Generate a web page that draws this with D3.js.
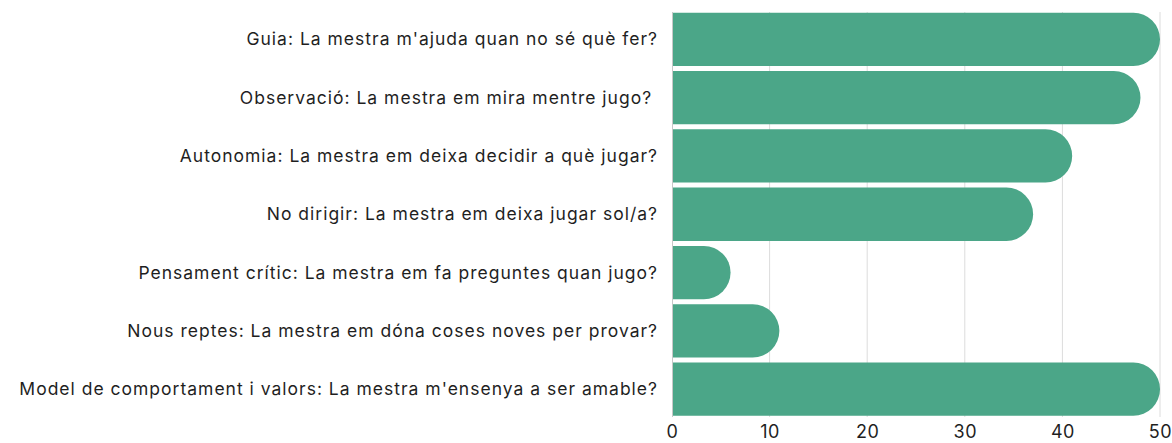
<!DOCTYPE html>
<html>
<head>
<meta charset="utf-8">
<script src="https://cdn.jsdelivr.net/npm/d3@7"></script>
<style>
  html, body { margin: 0; padding: 0; background: #ffffff; }
  svg { display: block; font-family: Inter, "Noto Sans", sans-serif; }
  text { white-space: pre; }
</style>
</head>
<body>
<svg id="chart" width="1172" height="443"></svg>
<script>
const categories = [
  "Guia: La mestra m'ajuda quan no sé què fer?",
  "Observació: La mestra em mira mentre jugo? ",
  "Autonomia: La mestra em deixa decidir a què jugar?",
  "No dirigir: La mestra em deixa jugar sol/a?",
  "Pensament crític: La mestra em fa preguntes quan jugo?",
  "Nous reptes: La mestra em dóna coses noves per provar?",
  "Model de comportament i valors: La mestra m'ensenya a ser amable?"
];
const values = [50, 48, 41, 37, 6, 11, 50];
const xTicks = [0, 10, 20, 30, 40, 50];

const svg = d3.select("#chart");
const x = d3.scaleLinear().domain([0, 50]).range([672, 1160]);
const y = d3.scaleBand().domain(categories).range([10.2, 418.3]).paddingInner(0.085).paddingOuter(0.0425);

// grid lines
svg.append("g").selectAll("line").data(xTicks.filter(d => d > 0)).join("line")
  .attr("x1", d => x(d)).attr("x2", d => x(d))
  .attr("y1", 12).attr("y2", 417)
  .attr("stroke", "#dcdcdc").attr("stroke-width", 1);

// bars with rounded right end
const bh = y.bandwidth();
svg.append("g").selectAll("path").data(categories).join("path")
  .attr("fill", "#4ba688")
  .attr("d", (c, i) => {
    const x0 = x(0), x1 = x(values[i]), y0 = y(c), r = bh / 2;
    const p = d3.path();
    p.moveTo(x0, y0);
    p.lineTo(x1 - r, y0);
    p.arc(x1 - r, y0 + r, r, -Math.PI / 2, Math.PI / 2);
    p.lineTo(x0, y0 + bh);
    p.closePath();
    return p.toString();
  });

// left axis line
svg.append("line").attr("x1", 672.5).attr("x2", 672.5).attr("y1", 12).attr("y2", 417)
  .attr("stroke", "#c8c8c8").attr("stroke-width", 1);

// category labels
svg.append("g").selectAll("text").data(categories).join("text")
  .attr("x", 658).attr("y", c => y(c) + bh / 2)
  .attr("dy", "0.35em").attr("text-anchor", "end")
  .attr("font-size", 17.5).attr("letter-spacing", "1px").attr("fill", "#1f1f1f")
  .text(c => c);

// x axis tick labels
const xAxis = d3.axisBottom(x).tickValues(xTicks).tickSize(0).tickPadding(0);
const gx = svg.append("g").attr("transform", "translate(0,425)").call(xAxis);
gx.select(".domain").remove();
gx.selectAll("text").attr("font-size", 18).attr("letter-spacing", "0.5px").attr("fill", "#1f1f1f")
  .attr("font-family", "Inter, 'Noto Sans', sans-serif");
</script>
</body>
</html>
